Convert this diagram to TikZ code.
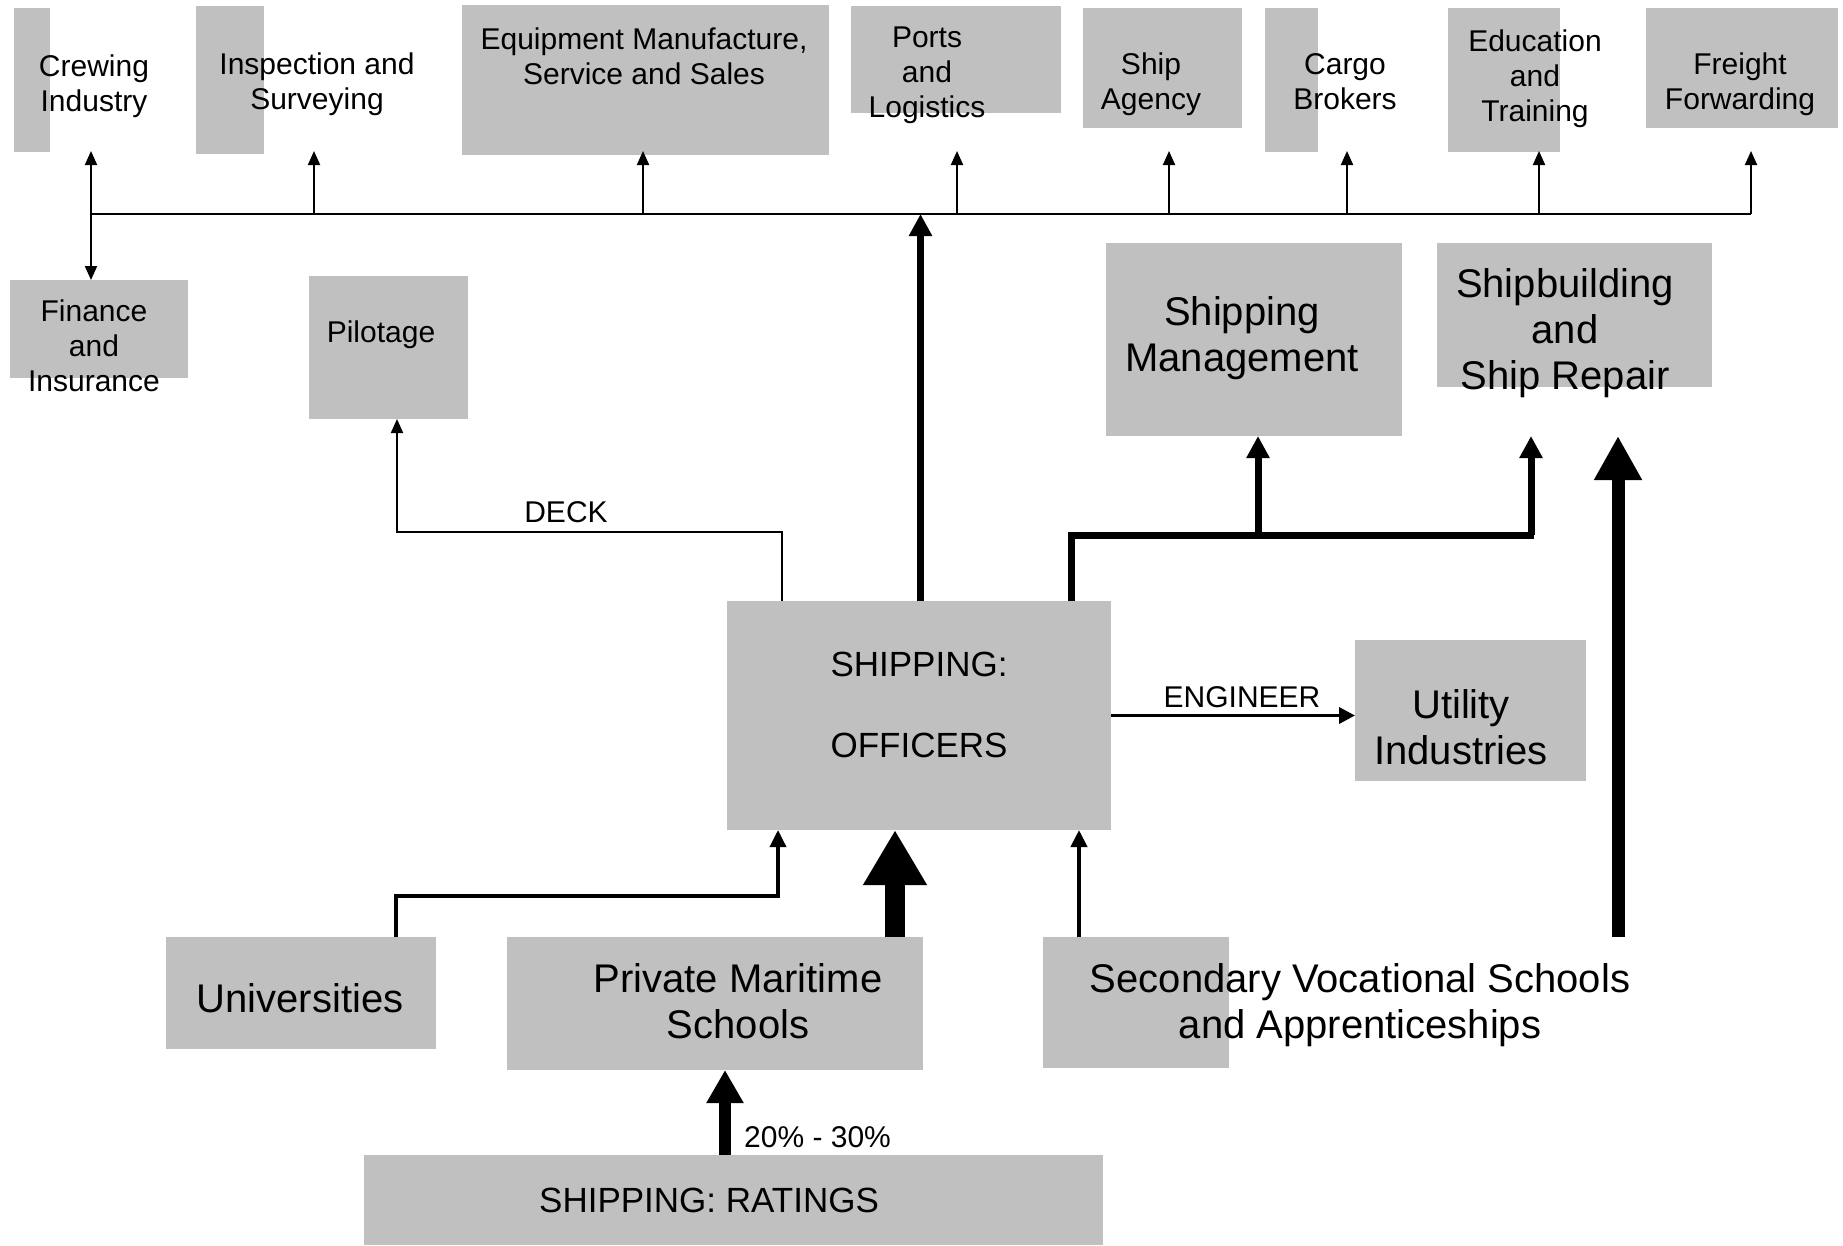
\documentclass[tikz,border=0pt]{standalone}
\usepackage{fontspec}
\setmainfont{Liberation Sans}
\usepackage{xcolor}
\usepackage{tikz}
\usetikzlibrary{positioning,calc,arrows.meta}
\definecolor{boxgray}{RGB}{192,192,192}
\tikzset{
  box/.style={fill=boxgray, inner sep=0pt, outer sep=0pt},
  lbl/.style={align=center, inner sep=0pt, font=\fontsize{30}{35}\selectfont},
  midlbl/.style={align=center, inner sep=0pt, font=\fontsize{35}{40.5}\selectfont},
  biglbl/.style={align=center, inner sep=0pt, font=\fontsize{40}{46}\selectfont},
  arr/.style={line width=2pt, -{Triangle[length=14pt,width=12pt]}},
  medarr/.style={line width=4pt, -{Triangle[length=17pt,width=16pt]}},
  thkarr/.style={line width=7.5pt, -{Triangle[length=22pt,width=22pt]}},
  branch/.style={line width=7pt},
}
\begin{document}
\begin{tikzpicture}[x=1pt, y=-1pt]
    \useasboundingbox (0,0) rectangle (1843,1245);

    % top row
    \node[box, minimum width=36pt,  minimum height=144pt] (crewB)    at (32,80) {};
    \node[box, minimum width=68pt,  minimum height=148pt] (inspB)    at (230,80) {};
    \node[box, minimum width=367pt, minimum height=150pt] (equipB)   at (645.5,80) {};
    \node[box, minimum width=210pt, minimum height=107pt] (portsB)   at (956,59.5) {};
    \node[box, minimum width=159pt, minimum height=120pt] (agencyB)  at (1162.5,68) {};
    \node[box, minimum width=53pt,  minimum height=144pt] (cargoB)   at (1291.5,80) {};
    \node[box, minimum width=112pt, minimum height=144pt] (eduB)     at (1504,80) {};
    \node[box, minimum width=192pt, minimum height=120pt] (freightB) at (1742,68) {};

    \node[lbl, anchor=north] (crew)    at (94,55)   {Crewing\\Industry};
    \node[lbl, anchor=north] (insp)    at (317,53)  {Inspection and\\Surveying};
    \node[lbl, anchor=north] (equip)   at (644,28)  {Equipment Manufacture,\\Service and Sales};
    \node[lbl, anchor=north] (ports)   at (927,27)  {Ports\\and\\Logistics};
    \node[lbl, anchor=north] (agency)  at (1151,53) {Ship\\Agency};
    \node[lbl, anchor=north] (cargo)   at (1345,53) {Cargo\\Brokers};
    \node[lbl, anchor=north] (edu)     at (1535,30) {Education\\and\\Training};
    \node[lbl, anchor=north] (freight) at (1740,53) {Freight\\Forwarding};

    % bus line and taps
    \coordinate (busL) at (91,214);
    \coordinate (busR) at (1751,214);
    \draw[line width=2.5pt] (busL) -- (busR);
    \foreach \n/\x in {crew/91, insp/314, equip/643, ports/957, agency/1169, cargo/1347, edu/1539, freight/1751}
    {
        \coordinate (\n T) at (\x,151);
        \draw[arr] (\n T |- busL) -- (\n T);
    }

    % second row
    \node[box, minimum width=178pt, minimum height=98pt]  (finB)   at (99,329) {};
    \node[box, minimum width=159pt, minimum height=143pt] (pilotB) at (388.5,347.5) {};
    \node[box, minimum width=296pt, minimum height=193pt] (mgmtB)  at (1254,339.5) {};
    \node[box, minimum width=275pt, minimum height=144pt] (shipbB) at (1574.5,315) {};

    \node[lbl, anchor=north]    (fin)   at (94,300)   {Finance\\and\\Insurance};
    \node[lbl, anchor=north]    (pilot) at (381,321)  {Pilotage};
    \node[biglbl, anchor=north] (mgmt)  at (1242,296) {Shipping\\Management};
    \node[biglbl, anchor=north] (shipb) at (1565,268) {Shipbuilding\\and\\Ship Repair};

    \draw[arr] (busL) -- (busL |- finB.north);

    % officers
    \node[box, minimum width=384pt, minimum height=229pt] (offB)  at (919,715.5) {};
    \node[box, minimum width=231pt, minimum height=141pt] (utilB) at (1470.5,710.5) {};
    \node[midlbl, anchor=north] (off)  at (919,652)  {SHIPPING:\\[40.5pt]OFFICERS};
    \node[biglbl, anchor=north] (util) at (1461,689) {Utility\\Industries};

    \draw[thkarr] ([xshift=1.5pt]offB.north) -- ([xshift=1.5pt]offB.north |- busL);
    \draw[arr] ([xshift=-137pt]offB.north) -- ++(0,-69) -| ([xshift=8.5pt]pilotB.south);
    \node[lbl, anchor=base] (deck) at (566,522) {DECK};

    \coordinate (brA) at (1071,535);
    \coordinate (sbT) at (1531,436);
    \draw[branch] (brA |- offB.north) -- (brA) -- ([xshift=3pt]sbT |- brA);
    \draw[thkarr, line width=7pt] ([xshift=4pt]mgmtB.south |- brA) -- ([xshift=4pt]mgmtB.south);
    \draw[thkarr, line width=7pt] (sbT |- brA) -- (sbT);

    \draw[line width=3.5pt, -{Triangle[length=16pt,width=16pt]}] (offB.east) -- (offB.east -| utilB.west);
    \node[lbl, anchor=base] (eng) at (1242,707) {ENGINEER};

    % schools
    \node[box, minimum width=270pt, minimum height=112pt] (uniB)  at (301,993) {};
    \node[box, minimum width=416pt, minimum height=133pt] (privB) at (715,1003.5) {};
    \node[box, minimum width=186pt, minimum height=131pt] (secB)  at (1136,1002.5) {};
    \node[box, minimum width=739pt, minimum height=90pt]  (ratB)  at (733.5,1200) {};

    \node[biglbl, anchor=base]  (uni)  at (300,1012) {Universities};
    \node[biglbl, anchor=north] (priv) at (738,963)  {Private Maritime\\Schools};
    \node[biglbl, anchor=north] (sec)  at (1360,963) {Secondary Vocational Schools\\and Apprenticeships};
    \node[midlbl, anchor=base]  (rat)  at (709,1212) {SHIPPING: RATINGS};

    \draw[medarr, line width=3.5pt] ([xshift=95pt]uniB.north) -- ++(0,-41) -| ([xshift=-141pt]offB.south);
    \draw[line width=20pt, -{Triangle[length=55pt,width=60pt]}] ([xshift=180pt]privB.north) -- ([xshift=180pt]privB.north |- offB.south);
    \draw[medarr] ([xshift=-57pt]secB.north) -- ([xshift=-57pt]secB.north |- offB.south);
    \draw[line width=12pt, -{Triangle[length=33pt,width=35pt]}] ([xshift=10pt]privB.south |- ratB.north) -- ([xshift=10pt]privB.south);
    \node[lbl, anchor=base west] (pct) at (744,1147) {20\% - 30\%};

    % big arrow to shipbuilding
    \coordinate (bigS) at (1618,937);
    \coordinate (bigT) at (1618,436);
    \draw[line width=13pt, -{Triangle[length=44pt,width=45pt]}] (bigS) -- (bigT);
\end{tikzpicture}
\end{document}
